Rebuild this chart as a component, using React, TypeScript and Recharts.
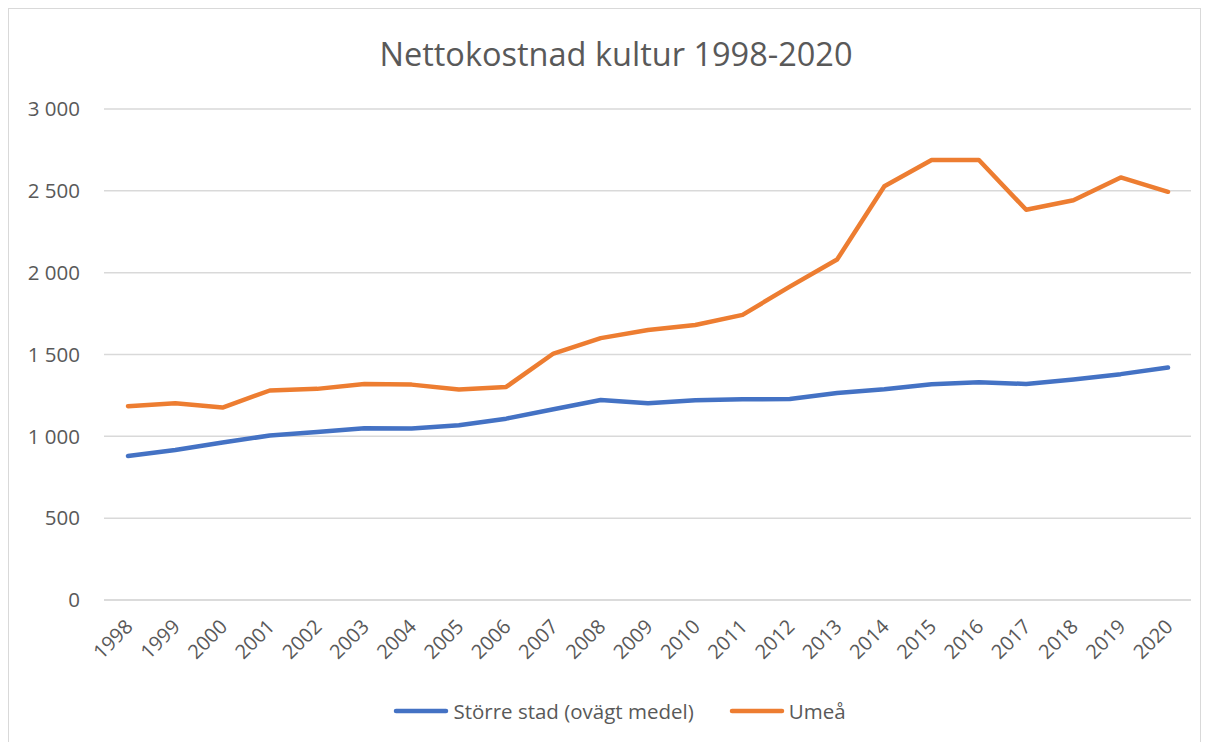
import React from "react";
import { LineChart, Line, XAxis, YAxis, CartesianGrid, Legend } from "recharts";

const years = ["1998","1999","2000","2001","2002","2003","2004","2005","2006","2007","2008","2009","2010","2011","2012","2013","2014","2015","2016","2017","2018","2019","2020"];
const storreStad = [880, 917, 962, 1005, 1027, 1050, 1048, 1068, 1108, 1165, 1222, 1202, 1220, 1226, 1228, 1265, 1288, 1318, 1330, 1320, 1347, 1380, 1420];
const umea = [1184, 1202, 1176, 1280, 1290, 1320, 1316, 1286, 1302, 1506, 1600, 1650, 1680, 1742, 1915, 2080, 2528, 2688, 2688, 2384, 2442, 2582, 2494];
const yTicks = [0, 500, 1000, 1500, 2000, 2500, 3000];
const title = "Nettokostnad kultur 1998-2020";
const seriesNames = ["Större stad (ovägt medel)", "Umeå"];
const seriesColors = ["#4472C4", "#ED7D31"];

const data = years.map((y, i) => ({ year: y, s: storreStad[i], u: umea[i] }));

const FONT = "'Open Sans', sans-serif";
const TEXT = "#595959";

const fmt = (v: number) => {
  const s = String(v);
  return s.length > 3 ? s.slice(0, s.length - 3) + " " + s.slice(s.length - 3) : s;
};

const XTick = (props: any) => {
  const { x, y, payload } = props;
  return (
    <text
      x={x + 6}
      y={y + 28}
      transform={`rotate(-45 ${x + 6} ${y + 28})`}
      textAnchor="end"
      fill={TEXT}
      fontSize={20}
      fontFamily={FONT}
    >
      {payload.value}
    </text>
  );
};

const LegendContent = () => (
  <div
    style={{
      height: 62,
      display: "flex",
      alignItems: "center",
      justifyContent: "center",
      paddingLeft: 30,
      fontFamily: FONT,
      fontSize: 20.5,
      color: TEXT,
    }}
  >
    {seriesNames.map((n, i) => (
      <div key={n} style={{ display: "flex", alignItems: "center", marginRight: i === 0 ? 35 : 0 }}>
        <svg width={56} height={10} style={{ marginRight: 4 }}>
          <line x1={3} y1={5} x2={53} y2={5} stroke={seriesColors[i]} strokeWidth={4.5} strokeLinecap="round" />
        </svg>
        <span>{n}</span>
      </div>
    ))}
  </div>
);

export default function App() {
  return (
    <div>
      <style>{`body{margin:8px;}`}</style>
      <div
        style={{
          position: "relative",
          width: 1193,
          height: 760,
          border: "1px solid #D9D9D9",
          boxSizing: "border-box",
          background: "#fff",
        }}
      >
        <div
          style={{
            position: "absolute",
            top: 29,
            left: 0,
            width: 1191,
            paddingLeft: 23,
            boxSizing: "border-box",
            textAlign: "center",
            fontFamily: FONT,
            fontSize: 32.5,
            lineHeight: "32.5px",
            color: TEXT,
          }}
        >
          {title}
        </div>
        <LineChart width={1191} height={733} data={data} margin={{ top: 100, right: 9, left: 0, bottom: 0 }}>
          <CartesianGrid vertical={false} stroke="#D9D9D9" strokeWidth={1.5} />
          <XAxis
            dataKey="year"
            padding={{ left: 24, right: 23 }}
            height={80}
            tickLine={false}
            tickSize={0}
            tickMargin={0}
            axisLine={{ stroke: "#D9D9D9", strokeWidth: 1.5 }}
            tick={<XTick />}
            interval={0}
          />
          <YAxis
            width={95}
            domain={[0, 3000]}
            ticks={yTicks}
            tickFormatter={fmt}
            axisLine={false}
            tickLine={false}
            tickMargin={18}
            tick={{ fill: TEXT, fontSize: 20.5, fontFamily: FONT }}
          />
          <Legend verticalAlign="bottom" height={62} content={<LegendContent />} wrapperStyle={{ left: 0, width: 1191 }} />
          <Line
            type="linear"
            dataKey="s"
            name={seriesNames[0]}
            stroke={seriesColors[0]}
            strokeWidth={4.5}
            dot={false}
            strokeLinecap="round"
            strokeLinejoin="round"
            isAnimationActive={false}
          />
          <Line
            type="linear"
            dataKey="u"
            name={seriesNames[1]}
            stroke={seriesColors[1]}
            strokeWidth={4.5}
            dot={false}
            strokeLinecap="round"
            strokeLinejoin="round"
            isAnimationActive={false}
          />
        </LineChart>
      </div>
    </div>
  );
}
